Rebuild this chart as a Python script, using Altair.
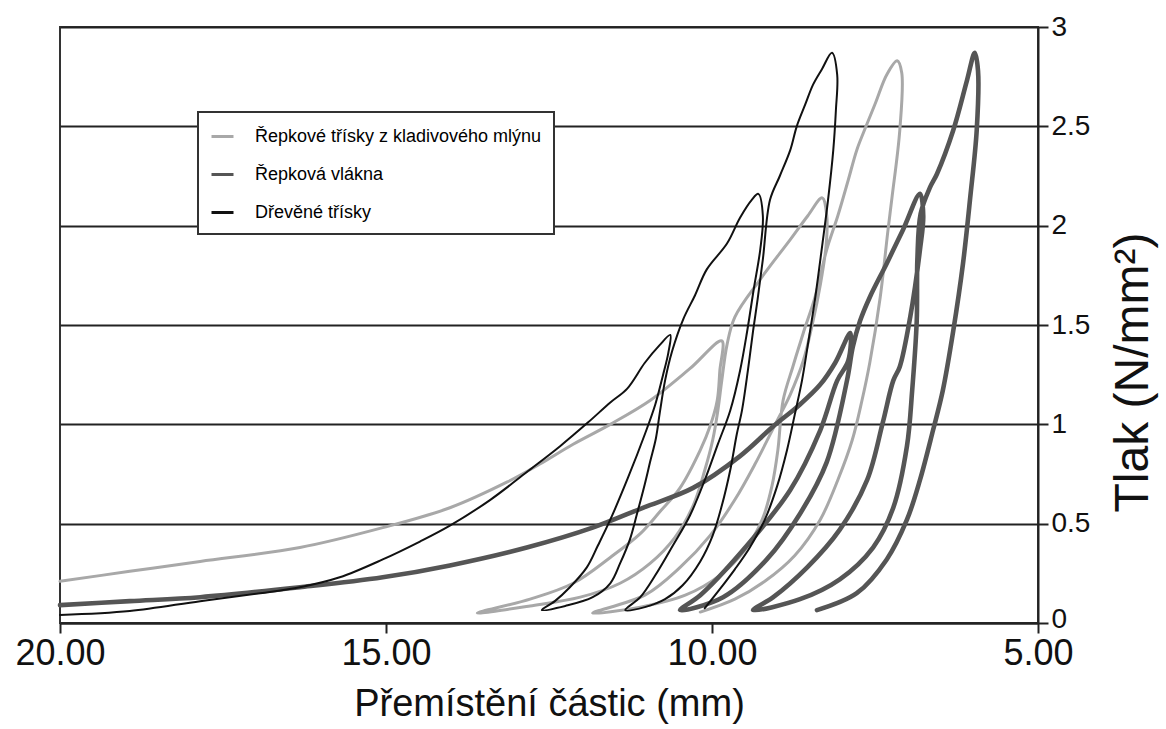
import altair as alt
import pandas as pd

# ---- series names, colours, stroke widths ----
SERIES = ["Řepkové třísky z kladivového mlýnu", "Řepková vlákna", "Dřevěné třísky"]
COLORS = ["#a8a8a8", "#555555", "#111111"]
WIDTHS = [3.0, 4.6, 2.0]

# ---- Řepkové třísky z kladivového mlýnu (light grey) ----
lg_x = [20.00, 18.93, 17.85, 16.32, 15.05, 14.02, 13.14, 12.64, 12.13, 11.56, 10.95, 10.34, 9.85,
        9.88, 9.92, 10.03, 10.18, 10.49, 10.80, 11.10, 11.56, 12.13, 12.79, 13.60,
        12.79, 12.02, 11.41, 10.95, 10.57, 10.29, 10.11, 9.99, 9.91, 9.85, 9.77, 9.65, 9.26, 8.80, 8.53, 8.31,
        8.24, 8.25, 8.34, 8.45, 8.60, 8.80, 9.03, 9.34, 9.65, 10.03, 10.49, 11.03, 11.83,
        11.10, 10.41, 9.88, 9.49, 9.23, 9.08, 8.99, 8.91, 8.76, 8.60, 8.42, 8.24, 8.07, 7.91, 7.78, 7.65, 7.49, 7.32, 7.16,
        7.09, 7.12, 7.24, 7.30, 7.42, 7.58, 7.70, 7.85, 8.07, 8.34, 8.73, 9.19, 9.65, 10.18]
lg_y = [0.21, 0.26, 0.31, 0.38, 0.48, 0.58, 0.71, 0.80, 0.90, 1.00, 1.12, 1.28, 1.42,
        1.27, 1.12, 0.99, 0.87, 0.68, 0.56, 0.45, 0.33, 0.20, 0.12, 0.05,
        0.086, 0.13, 0.20, 0.30, 0.43, 0.59, 0.77, 0.92, 1.07, 1.22, 1.40, 1.54, 1.73, 1.93, 2.05, 2.14,
        2.05, 1.90, 1.70, 1.52, 1.32, 1.15, 1.00, 0.80, 0.62, 0.44, 0.28, 0.14, 0.05,
        0.08, 0.14, 0.24, 0.37, 0.52, 0.69, 0.87, 1.12, 1.29, 1.46, 1.64, 1.88, 2.05, 2.23, 2.38, 2.49, 2.62, 2.76, 2.83,
        2.77, 2.48, 2.14, 1.98, 1.64, 1.31, 1.12, 0.92, 0.72, 0.52, 0.34, 0.21, 0.12, 0.055]

# ---- Řepková vlákna (dark grey, thick) ----
dg_x = [20.00, 18.93, 17.85, 16.32, 15.05, 14.02, 12.84, 11.83, 11.06, 10.29, 9.57, 9.06, 8.65, 8.34, 8.11, 7.88,
        7.91, 8.08, 8.34, 8.80, 9.57, 10.18, 10.49,
        9.83, 9.16, 8.65, 8.24, 7.93, 7.84, 7.73, 7.58, 7.32, 7.07, 6.81,
        6.76, 6.81, 6.96, 7.12, 7.22, 7.38, 7.62, 8.04, 8.54, 9.06, 9.37,
        8.65, 8.04, 7.53, 7.22, 7.01, 6.93, 6.86, 6.85, 6.80, 6.66, 6.55, 6.30, 6.09, 5.97,
        5.92, 5.94, 6.04, 6.15, 6.30, 6.46, 6.61, 6.81, 7.01, 7.32, 7.78, 8.39]
dg_y = [0.09, 0.11, 0.13, 0.18, 0.23, 0.29, 0.38, 0.48, 0.58, 0.68, 0.84, 0.99, 1.10, 1.20, 1.31, 1.46,
        1.32, 1.22, 0.97, 0.67, 0.35, 0.14, 0.065,
        0.13, 0.32, 0.55, 0.81, 1.22, 1.39, 1.52, 1.64, 1.81, 1.98, 2.16,
        2.05, 1.88, 1.54, 1.29, 1.22, 1.01, 0.72, 0.47, 0.28, 0.13, 0.065,
        0.12, 0.22, 0.38, 0.58, 0.89, 1.17, 1.52, 1.83, 2.06, 2.19, 2.26, 2.48, 2.73, 2.87,
        2.78, 2.48, 2.14, 1.81, 1.47, 1.17, 0.97, 0.72, 0.52, 0.32, 0.15, 0.065]

# ---- Dřevěné třísky (black, thin) ----
bk_x = [20.00, 18.93, 17.85, 16.93, 16.32, 15.71, 15.05, 14.48, 14.02, 13.40, 12.84, 12.33, 11.90, 11.56, 11.30, 11.03, 10.80, 10.64,
        10.67, 10.75, 10.87, 11.03, 11.29, 11.56, 11.75, 11.92, 12.18, 12.41, 12.61,
        12.25, 11.83, 11.56, 11.41, 11.26, 11.15, 11.03, 10.95, 10.86, 10.80, 10.72, 10.61, 10.44, 10.26, 10.08, 9.77, 9.57, 9.39, 9.29,
        9.22, 9.26, 9.36, 9.46, 9.57, 9.72, 9.91, 10.11, 10.34, 10.60, 10.87, 11.10, 11.33,
        11.03, 10.72, 10.45, 10.18, 9.99, 9.85, 9.72, 9.62, 9.54, 9.45, 9.37, 9.30, 9.22, 9.11, 8.96, 8.80, 8.70, 8.57, 8.45, 8.31, 8.16,
        8.08, 8.10, 8.14, 8.22, 8.31, 8.42, 8.53, 8.62, 8.73, 8.85, 9.00, 9.19, 9.42, 9.65, 9.88, 10.11]
bk_y = [0.04, 0.06, 0.11, 0.15, 0.18, 0.23, 0.32, 0.41, 0.49, 0.62, 0.76, 0.89, 1.01, 1.11, 1.18, 1.31, 1.40, 1.45,
        1.36, 1.25, 1.10, 0.95, 0.73, 0.52, 0.39, 0.28, 0.18, 0.11, 0.065,
        0.086, 0.13, 0.20, 0.30, 0.42, 0.55, 0.70, 0.81, 0.93, 1.06, 1.22, 1.37, 1.53, 1.65, 1.78, 1.91, 2.04, 2.13, 2.16,
        2.05, 1.88, 1.68, 1.47, 1.27, 1.07, 0.90, 0.72, 0.54, 0.39, 0.24, 0.13, 0.065,
        0.08, 0.12, 0.19, 0.31, 0.44, 0.59, 0.77, 0.95, 1.07, 1.27, 1.47, 1.63, 1.83, 2.13, 2.25, 2.38, 2.50, 2.61, 2.71, 2.79, 2.87,
        2.76, 2.58, 2.38, 2.13, 1.90, 1.63, 1.40, 1.22, 1.05, 0.87, 0.69, 0.52, 0.38, 0.27, 0.17, 0.075]

X_TICKS = [20, 15, 10, 5]
Y_TICKS = [0, 0.5, 1, 1.5, 2, 2.5, 3]

rows = []
for name, xs, ys in zip(SERIES, [lg_x, dg_x, bk_x], [lg_y, dg_y, bk_y]):
    for i, (xv, yv) in enumerate(zip(xs, ys)):
        rows.append({"series": name, "i": i, "x": xv, "y": yv})
df = pd.DataFrame(rows)

FONT = "Liberation Sans"

color = alt.Color(
    "series:N",
    scale=alt.Scale(domain=SERIES, range=COLORS),
    legend=alt.Legend(
        title=None, orient="none", legendX=138, legendY=85,
        symbolType="stroke", symbolSize=484, symbolStrokeWidth=3,
        labelFontSize=18, labelFont=FONT, labelColor="#000", labelOffset=20,
        labelLimit=500, rowPadding=16, padding=12,
        strokeColor="#333", fillColor="#ffffff",
    ),
)

xenc = alt.X(
    "x:Q",
    scale=alt.Scale(domain=[5, 20], reverse=True, nice=False, zero=False),
    axis=alt.Axis(values=X_TICKS, format=".2f", grid=False, tickSize=10, tickWidth=2,
                  tickColor="#222", domainColor="#222", domainWidth=2, labelFlush=False,
                  labelFontSize=36, labelFont=FONT, labelColor="#111", labelPadding=3,
                  titleFontSize=38, titleFont=FONT, titleFontWeight="normal", titleColor="#111",
                  titlePadding=14),
    title="Přemístění částic (mm)",
)
yenc = alt.Y(
    "y:Q",
    scale=alt.Scale(domain=[0, 3], nice=False, zero=False),
    axis=alt.Axis(orient="right", values=Y_TICKS, format="~g", grid=True, gridColor="#222", gridWidth=2,
                  tickSize=10, tickWidth=2, tickColor="#222", domainColor="#222", domainWidth=2,
                  labelFlush=False,
                  labelOffset={"condition": {"test": "datum.value == 0", "value": -4}, "value": 0},
                  labelFontSize=28, labelFont=FONT, labelColor="#111", labelPadding=3,
                  titleFontSize=48, titleFont=FONT, titleFontWeight="normal", titleColor="#111",
                  titleAngle=270, titleX=95, titleY=345, titleAlign="center", titleBaseline="middle"),
    title="Tlak (N/mm²)",
)

layers = []
for name, w in zip(SERIES, WIDTHS):
    layers.append(
        alt.Chart(df)
        .transform_filter(alt.datum.series == name)
        .mark_line(strokeWidth=w, strokeJoin="round", strokeCap="round", interpolate="catmull-rom")
        .encode(x=xenc, y=yenc, color=color, order=alt.Order("i:Q"))
    )

chart = (
    alt.layer(*layers)
    .properties(
        width=978, height=596,
        autosize=alt.AutoSizeParams(type="none"),
        padding={"left": 60, "top": 27, "right": 128, "bottom": 106},
        background="white",
    )
    .configure_view(stroke="#333", strokeWidth=2)
    .configure_legend(strokeWidth=2)
)

chart.save("out.html", embed_options={"renderer": "svg", "actions": False})
